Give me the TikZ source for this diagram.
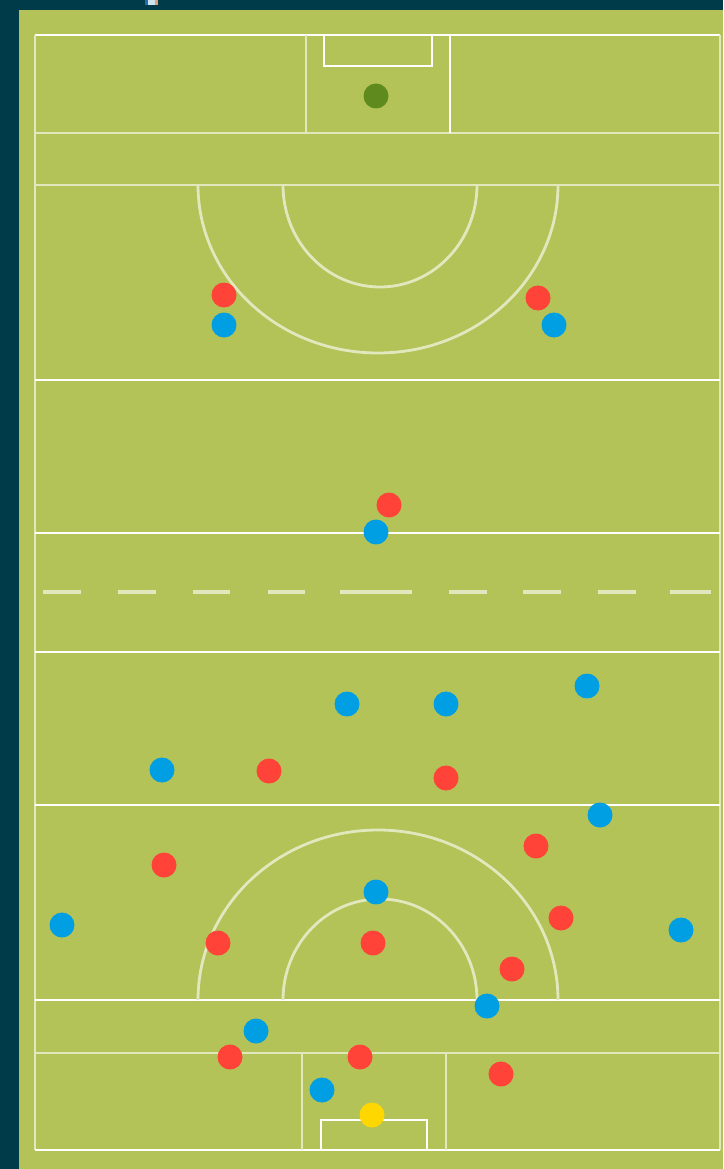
\documentclass[tikz,border=0pt]{standalone}
\usetikzlibrary{positioning}

\begin{document}
\begin{tikzpicture}[
    x=1pt, y=-1pt,
    line/.style={draw=white, line width=2.8pt},
    faint/.style={draw=fieldline, line width=2.8pt},
    player/.style={circle, inner sep=0pt, minimum size=25pt},
    redplayer/.style={player, fill=redteam},
    blueplayer/.style={player, fill=blueteam},
]

% Colors matching the original
\definecolor{backdrop}{HTML}{003B4A}
\definecolor{grass}{HTML}{B3C357}
\definecolor{fieldline}{HTML}{E2E8BE}
\definecolor{redteam}{HTML}{FF4338}
\definecolor{blueteam}{HTML}{009FE3}
\definecolor{keeper}{HTML}{5E8A1E}
\definecolor{ballyellow}{HTML}{FFD700}
\definecolor{iconblue}{HTML}{1E6FB0}
\definecolor{iconlight}{HTML}{CFE4F0}
\definecolor{iconorange}{HTML}{E8A070}

% Field edges
\def\fL{35}
\def\fR{720}
\def\fT{35}
\def\fB{1150}

% Background and grass
\fill[backdrop] (0,0) rectangle (723,1169);
\fill[grass] (19,10) rectangle (723,1169);
\useasboundingbox (0,0) rectangle (723,1169);

% Small clipped icon at the top edge
\fill[iconblue] (145,0) rectangle (148,5);
\fill[iconlight] (148,0) rectangle (155,5);
\fill[iconorange] (155,0) rectangle (158,5);

% Boundary
\draw[line] (\fL,\fT) -- (\fR,\fT);
\draw[faint] (\fL,\fT) -- (\fL,\fB);
\draw[faint] (\fR,\fT) -- (\fR,\fB);
\draw[line] (\fL,\fB) -- (\fR,\fB);

% Cross lines
\draw[faint] (\fL,133) -- (\fR,133);
\draw[faint] (\fL,185) -- (\fR,185);
\draw[line] (\fL,380) -- (\fR,380);
\draw[line] (\fL,533) -- (\fR,533);
\draw[line] (\fL,652) -- (\fR,652);
\draw[line] (\fL,805) -- (\fR,805);
\draw[line] (\fL,1000) -- (\fR,1000);
\draw[faint] (\fL,1053) -- (\fR,1053);

% Halfway line (dashed, longer centre dash)
\foreach \a/\b in {43/81, 118/156, 193/230, 268/305, 340/412, 449/487, 523/561, 598/636, 670/711}
    \draw[fieldline, line width=4pt] (\a,592) -- (\b,592);

% Top goal area
\draw[faint] (306,\fT) -- (306,133);
\draw[line] (450,\fT) -- (450,133);
\draw[line] (324,\fT) -- (324,66) -- (432,66) -- (432,\fT);

% Bottom goal area
\draw[faint] (302,1053) -- (302,\fB);
\draw[faint] (446,1053) -- (446,\fB);
\draw[line] (321,\fB) -- (321,1120) -- (427,1120) -- (427,\fB);

% Top arcs
\draw[faint] (198,185) arc[start angle=180, end angle=360, x radius=180, y radius=-168];
\draw[faint] (283,185) arc[start angle=180, end angle=360, x radius=97, y radius=-102];

% Bottom arcs
\draw[faint] (198,1000) arc[start angle=180, end angle=0, x radius=180, y radius=-170];
\draw[faint] (283,1000) arc[start angle=180, end angle=0, x radius=97, y radius=-101];

% Goalkeepers
\node[player, fill=keeper] (gkTop) at (376,96) {};
\node[player, fill=ballyellow] (gkBot) at (372,1115) {};

% Red team
\foreach \px/\py [count=\i] in {224/295, 538/298, 389/505, 269/771, 446/778,
    164/865, 536/846, 561/918, 218/943, 373/943, 512/969, 230/1057, 360/1057, 501/1074}
    \node[redplayer] (red\i) at (\px,\py) {};

% Blue team
\foreach \px/\py [count=\i] in {224/325, 554/325, 376/532, 347/704, 446/704, 587/686,
    162/770, 600/815, 62/925, 376/892, 681/930, 487/1006, 256/1031, 322/1090}
    \node[blueplayer] (blue\i) at (\px,\py) {};

\end{tikzpicture}
\end{document}
